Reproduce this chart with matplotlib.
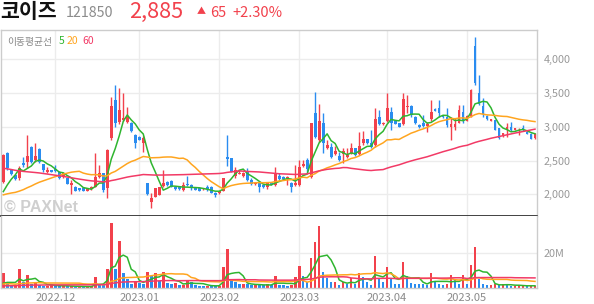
import numpy as np
import pandas as pd
import matplotlib
matplotlib.use("Agg")
import matplotlib.pyplot as plt

plt.rcParams['font.family'] = ['Noto Sans CJK KR', 'DejaVu Sans']

# ---------------- data ----------------
# visible daily candles (2022-11-14 .. 2023-05-26)
opens = [2188, 2606, 2360, 2286, 2237, 2468, 2483, 2695, 2508, 2670,
         2449, 2326, 2360, 2370, 2336, 2252, 2237, 2138, 2114, 2089,
         2089, 2055, 2074, 2114, 2262, 2311, 2089, 2828, 3394, 3074,
         3099, 3074, 3050, 2877, 2853, 2754, 2163, 1880, 1966, 1991,
         2124, 2188, 2202, 2114, 2104, 2065, 2153, 2133, 2089, 2099,
         2074, 2114, 2114, 2025, 2015, 2050, 2547, 2533, 2271, 2301,
         2271, 2336, 2212, 2148, 2163, 2138, 2104, 2173, 2138, 2276,
         2262, 2237, 2173, 2138, 2138, 2419, 2508, 2262, 3198, 2803,
         3060, 2680, 2705, 2597, 2567, 2597, 2547, 2606, 2680, 2597,
         2754, 2813, 2754, 2730, 3138, 3040, 3089, 3222, 3089, 3050,
         3040, 3286, 3306, 3148, 3025, 3050, 3010, 3109, 3261, 3281,
         3158, 3138, 3000, 3000, 3060, 3222, 3089, 3158, 4193, 3503,
         3306, 3158, 3089, 3099, 2976, 2863, 2951, 3000, 2951, 2902,
         2976, 2927, 2892, 2835]
highs = [2597, 2626, 2370, 2290, 2419, 2557, 2877, 2715, 2754, 2685,
         2454, 2409, 2365, 2434, 2345, 2316, 2242, 2212, 2124, 2099,
         2094, 2094, 2124, 2606, 2434, 2321, 2665, 3444, 3616, 3567,
         3493, 3296, 3074, 2892, 2863, 2863, 2173, 2020, 2099, 2114,
         2360, 2198, 2212, 2124, 2109, 2188, 2271, 2153, 2099, 2104,
         2094, 2138, 2119, 2040, 2055, 2247, 2877, 2542, 2409, 2360,
         2331, 2395, 2237, 2178, 2188, 2143, 2188, 2178, 2400, 2321,
         2267, 2271, 2188, 2434, 2508, 2508, 2533, 3060, 3518, 3335,
         3198, 2803, 2754, 2715, 2631, 2680, 2680, 2754, 2690, 2927,
         2941, 2823, 2951, 3271, 3247, 3070, 3493, 3286, 3094, 3055,
         3493, 3468, 3321, 3158, 3035, 3173, 3074, 3394, 3271, 3394,
         3163, 3271, 3148, 3124, 3321, 3321, 3168, 3552, 4320, 3764,
         3419, 3168, 3114, 3104, 2985, 2912, 3050, 3074, 2985, 2976,
         3025, 2932, 2900, 2900]
lows = [2163, 2360, 2281, 2212, 2212, 2409, 2385, 2468, 2483, 2468,
        2336, 2321, 2326, 2331, 2232, 2247, 2148, 2005, 2045, 2055,
        2050, 2045, 2070, 2104, 2237, 2040, 1941, 2803, 3000, 3040,
        3089, 3050, 2927, 2680, 2798, 2631, 1991, 1800, 1960, 1985,
        2104, 2124, 2104, 2065, 2070, 2050, 2124, 2065, 2060, 2050,
        2070, 2055, 2020, 1966, 2005, 2045, 2419, 2331, 2237, 2296,
        2262, 2202, 2138, 2143, 2040, 2099, 2074, 2133, 2124, 2212,
        2217, 2138, 2040, 2124, 2124, 2400, 2336, 2247, 2828, 2779,
        2606, 2665, 2533, 2582, 2498, 2459, 2533, 2596, 2572, 2582,
        2730, 2744, 2680, 2705, 3025, 3030, 3074, 2951, 3035, 2990,
        3025, 3198, 3148, 3040, 2980, 3000, 2927, 3089, 3227, 3138,
        3133, 3000, 2803, 2951, 3050, 3060, 3079, 3148, 3616, 3321,
        3148, 3099, 3079, 2946, 2818, 2853, 2843, 2941, 2946, 2877,
        2941, 2887, 2815, 2820]
closes = [2582, 2385, 2301, 2227, 2385, 2434, 2567, 2483, 2567, 2483,
          2360, 2360, 2336, 2340, 2247, 2311, 2153, 2173, 2055, 2065,
          2055, 2089, 2114, 2262, 2311, 2065, 2656, 3306, 3050, 3247,
          3124, 3138, 2941, 2754, 2803, 2828, 2005, 1940, 2089, 2104,
          2173, 2138, 2114, 2074, 2074, 2138, 2133, 2094, 2065, 2055,
          2089, 2074, 2025, 1991, 2050, 2237, 2528, 2336, 2360, 2321,
          2321, 2212, 2153, 2173, 2114, 2104, 2163, 2138, 2321, 2222,
          2222, 2262, 2104, 2173, 2400, 2449, 2370, 3050, 2853, 3084,
          2754, 2730, 2547, 2646, 2508, 2646, 2582, 2680, 2582, 2715,
          2813, 2754, 2695, 3109, 3040, 3060, 3271, 3060, 3040, 3000,
          3404, 3306, 3173, 3050, 2991, 3010, 3040, 3222, 3237, 3207,
          3138, 3025, 3040, 3040, 3247, 3089, 3158, 3542, 3651, 3335,
          3188, 3109, 3109, 2951, 2828, 2902, 2991, 2951, 2976, 2927,
          2951, 2892, 2820, 2885]
# volume, millions of shares
volumes = [8.5, 3.3, 1.0, 1.0, 10.9, 3.3, 7.4, 1.9, 3.3, 1.6,
           1.0, 1.0, 1.5, 1.0, 0.8, 0.9, 0.7, 0.8, 0.5, 0.5,
           0.4, 0.5, 0.6, 6.0, 1.5, 1.4, 11.0, 37.5, 11.0, 27.0,
           8.2, 4.8, 2.3, 3.4, 2.5, 1.9, 9.3, 7.0, 8.7, 4.0,
           9.1, 2.9, 2.3, 2.4, 1.2, 1.5, 4.3, 3.5, 1.5, 1.0,
           0.9, 1.1, 1.0, 0.9, 1.1, 12.2, 22.3, 4.5, 3.0, 2.0,
           2.1, 1.8, 1.5, 1.7, 1.5, 1.2, 1.8, 1.2, 7.0, 1.5,
           1.2, 1.0, 1.2, 6.0, 12.3, 6.9, 3.0, 17.2, 26.7, 36.0,
           9.3, 5.4, 3.0, 3.2, 1.5, 3.0, 2.0, 5.4, 2.0, 8.4,
           6.3, 3.0, 1.6, 18.2, 5.0, 3.0, 11.9, 5.0, 2.0, 1.8,
           14.8, 6.9, 2.6, 2.2, 2.0, 1.8, 1.7, 8.4, 3.8, 2.2,
           1.6, 1.8, 7.3, 5.0, 2.0, 7.3, 2.0, 12.9, 23.7, 5.0,
           2.0, 1.2, 1.2, 2.2, 1.2, 2.0, 1.6, 1.0, 1.0, 1.0,
           1.1, 0.9, 1.0, 1.0]
# closes / volumes of the 59 sessions before the window (estimated from MA levels at the left edge)
lead_close = [2950, 2930, 2910, 2900, 2890, 2880, 2870, 2860, 2850, 2850,
              2840, 2830, 2830, 2820, 2810, 2800, 2750, 2700, 2650, 2620,
              2600, 2560, 2530, 2500, 2480, 2450, 2420, 2400, 2380, 2350,
              2320, 2300, 2280, 2250, 2230, 2200, 2180, 2150, 2120, 2100,
              2080, 2060, 2040, 2020, 2000, 1990, 1980, 1970, 1960, 1950,
              1940, 1930, 1920, 1910, 1900, 1890, 1880, 1900, 1950]
lead_volume = [0.5, 0.4, 0.6, 0.4, 0.5, 0.4, 0.5, 0.3, 0.4, 0.6,
               0.5, 0.4, 0.4, 0.5, 0.6, 0.4, 0.3, 0.4, 0.5, 0.4,
               0.5, 0.4, 0.6, 0.5, 0.4, 0.5, 0.4, 0.3, 0.5, 0.4,
               0.6, 0.5, 0.4, 0.4, 0.5, 0.4, 0.5, 0.4, 0.6, 0.5,
               0.8, 1.2, 6.0, 3.5, 2.0, 1.5, 1.2, 1.0, 0.9, 4.2,
               2.0, 1.3, 1.1, 0.9, 0.8, 1.0, 1.2, 0.9, 1.0]
month_labels = ['2022.12', '2023.01', '2023.02', '2023.03', '2023.04', '2023.05']
month_index = [13, 34, 54, 74, 96, 116]
ma_windows = [5, 20, 60]
price_ticks = [2000, 2500, 3000, 3500, 4000]

# ---------------- style ----------------
RED = '#f2414c'
BLUE = '#2a8cf0'
MA_COLORS = {5: '#2fb52f', 20: '#ffa51f', 60: '#f23a66'}
GRID = '#ececec'
FRAME = '#cccccc'
W, H = 594, 304

fig = plt.figure(figsize=(W / 100, H / 100), dpi=100)
left, right = 1 / W, 537 / W
ax = fig.add_axes([left, 1 - 216 / H, right - left, (216 - 30) / H])
axv = fig.add_axes([left, 1 - 287.5 / H, right - left, (287.5 - 216) / H], sharex=ax)

n = len(closes)
x = np.arange(n)
o = np.array(opens); c = np.array(closes)
hi = np.array(highs); lo = np.array(lows)
up = c >= o
cols = np.where(up, RED, BLUE)

full_close = pd.Series(lead_close + closes, dtype=float)
full_vol = pd.Series(lead_volume + volumes, dtype=float)

# grid
for a in (ax, axv):
    for m in month_index:
        a.axvline(m, color=GRID, lw=1, zorder=0)
for t in price_ticks:
    ax.axhline(t, color=GRID, lw=1, zorder=0)
axv.axhline(20, color=GRID, lw=1, zorder=0)

# candles
ax.vlines(x, lo, hi, colors=cols, lw=1, zorder=2)
body_bottom = np.minimum(o, c)
body_h = np.maximum(np.abs(c - o), 10)
ax.bar(x, body_h, bottom=body_bottom, width=0.72, color=cols, lw=0, zorder=3)

for w in ma_windows:
    ma = full_close.rolling(w).mean().values[-n:]
    ax.plot(x, ma, color=MA_COLORS[w], lw=1.1, zorder=4)

# volume
v = np.array(volumes)
vprev = np.r_[[lead_volume[-1]], v[:-1]]
vcols = np.where(v >= vprev, RED, BLUE)
axv.bar(x, v, width=0.68, color=vcols, lw=0, zorder=2)
for w in ma_windows:
    vma = full_vol.rolling(w).mean().values[-n:]
    axv.plot(x, vma, color=MA_COLORS[w], lw=1.1, zorder=3)

# axes
ax.set_xlim(-0.58, 133.5)
ax.set_ylim(1680, 4429)
axv.set_ylim(0, 41.8)

ax.yaxis.tick_right()
ax.set_yticks(price_ticks)
ax.set_yticklabels([f'{t:,}' for t in price_ticks])
ax.tick_params(axis='y', length=0, pad=5, labelsize=7.8, labelcolor='#999999')
ax.tick_params(axis='x', length=0, labelbottom=False)

axv.yaxis.tick_right()
axv.set_yticks([20])
axv.set_yticklabels(['20M'])
axv.tick_params(axis='y', length=0, pad=5, labelsize=7.8, labelcolor='#999999')
axv.set_xticks(month_index)
axv.set_xticklabels(month_labels)
axv.tick_params(axis='x', length=0, pad=4, labelsize=8, labelcolor='#8a8a8a')

for a in (ax, axv):
    for s in a.spines.values():
        s.set_color(FRAME)
        s.set_linewidth(1)
ax.spines['bottom'].set_color('#333333')
ax.spines['bottom'].set_linewidth(1.3)
axv.spines['top'].set_visible(False)

# ---------------- texts ----------------
def ft(px, py, s, **kw):
    fig.text(px / W, 1 - py / H, s, **kw)

ft(0, 18, '코이즈', fontsize=14.8, fontweight='bold', color='#111111', va='baseline')
ft(66, 17, '121850', fontsize=10.3, color='#8c8c8c', va='baseline')
ft(129, 17.5, '2,885', fontsize=15.6, color=RED, va='baseline')
ft(197, 14.5, '▲', fontsize=6.5, color=RED, va='baseline')
ft(210, 17, '65', fontsize=10.5, color=RED, va='baseline')
ft(232, 17, '+2.30%', fontsize=10.5, color=RED, va='baseline')

ft(7, 44.5, '이동평균선', fontsize=7, color='#888888', va='baseline')
ft(59, 44.5, '5', fontsize=7.5, color=MA_COLORS[5], va='baseline')
ft(67, 44.5, '20', fontsize=7.5, color=MA_COLORS[20], va='baseline')
ft(82, 44.5, '60', fontsize=7.5, color=MA_COLORS[60], va='baseline')

ft(4, 212, '© PAXNet', fontsize=11.5, fontweight='bold', color='#cfcfcf', va='baseline',
   family=['Liberation Sans', 'DejaVu Sans'])

fig.savefig('out.png', dpi=100)
